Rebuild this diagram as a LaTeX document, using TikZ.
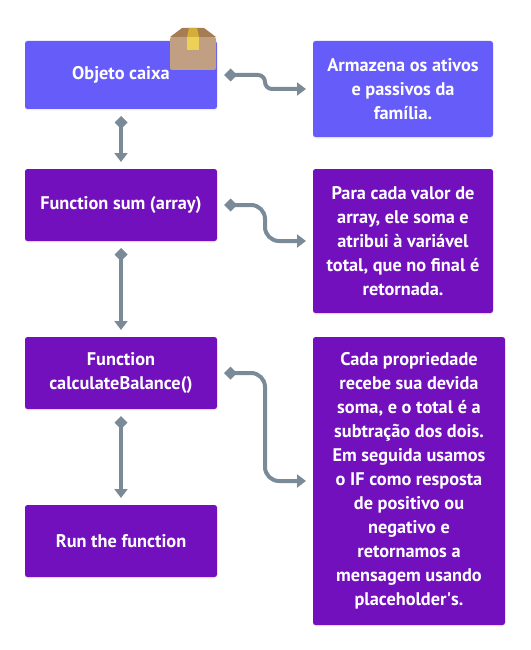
\documentclass[tikz,border=0pt]{standalone}
\usepackage{fontspec}
\setmainfont{PT Sans}
\usepackage{xcolor}
\usetikzlibrary{positioning, arrows.meta, shadows}

\definecolor{boxblue}{HTML}{665CFA}
\definecolor{boxpurple}{HTML}{7210BE}
\definecolor{linkgray}{HTML}{7B8A97}
\definecolor{cardbody}{HTML}{C19F82}
\definecolor{cardflap}{HTML}{A67C52}
\definecolor{tapelow}{HTML}{EDD057}
\definecolor{tapetop}{HTML}{D4AF37}

\begin{document}
\begin{tikzpicture}[
  x=1pt, y=1pt,
  node distance=60pt,
  every node/.style={font=\fontsize{18.3}{24}\selectfont\bfseries, text=white, outer sep=0pt},
  card/.style={
    rectangle, rounded corners=2.5pt,
    minimum width=192pt, inner sep=0pt,
    align=center,
    drop shadow={opacity=0.12, shadow xshift=0pt, shadow yshift=-1.5pt},
  },
  note/.style={card, minimum width=180pt},
  blue/.style={fill=boxblue},
  purple/.style={fill=boxpurple},
  link/.style={
    {Diamond[length=13pt,width=13pt]}-{Triangle[length=9pt,width=13pt]},
    draw=linkgray, line width=4pt, shorten <=7pt, shorten >=7pt,
  },
]
  \useasboundingbox (0,0) rectangle (530,-650);

  \node[card, blue, minimum height=68pt] (obj) at (121,-75) {Objeto caixa};
  \node[card, purple, minimum height=72pt, below=of obj] (sum) {Function sum (array)};
  \node[card, purple, minimum height=72pt, below=96pt of sum] (calc) {Function\\calculateBalance()};
  \node[card, purple, minimum height=72pt, below=96pt of calc] (run) {Run the function};

  \node[note, blue, minimum height=96pt, anchor=north west] (armazena) at ([xshift=96pt]obj.north east)
    {Armazena os ativos\\e passivos da\\família.};
  \node[note, purple, minimum height=144pt, anchor=north west] (cada) at ([xshift=96pt]sum.north east)
    {Para cada valor de\\array, ele soma e\\atribui à variável\\total, que no final é\\retornada.};
  \node[note, purple, minimum width=192pt, minimum height=288pt, anchor=north west] (prop) at ([xshift=96pt]calc.north east)
    {Cada propriedade\\recebe sua devida\\soma, e o total é a\\subtração dos dois.\\Em seguida usamos\\o IF como resposta\\de positivo ou\\negativo e\\retornamos a\\mensagem usando\\placeholder\textquotesingle s.};

  % caixa de papelao
  \fill[cardbody, rounded corners=2pt] (170,-37) rectangle (216,-70);
  \fill[cardflap] (170,-37) -- (182,-28) -- (204,-28) -- (216,-37) -- cycle;
  \fill[tapetop] (187,-37) -- (189,-28) -- (197,-28) -- (199,-37) -- cycle;
  \fill[tapelow] (187,-37) rectangle (199,-50);

  \coordinate[right=48pt of obj.east] (bendobj);
  \coordinate[right=48pt of sum.east] (bendsum);
  \coordinate[right=48pt of calc.east] (bendcalc);

  \draw[link] (obj) -- (sum);
  \draw[link] (sum) -- (calc);
  \draw[link] (calc) -- (run);
  \draw[link, rounded corners=7pt] (obj.east) -- (bendobj) |- (armazena.west);
  \draw[link, rounded corners=14pt] (sum.east) -- (bendsum) |- (cada.west);
  \draw[link, rounded corners=14pt] (calc.east) -- (bendcalc) |- (prop.west);
\end{tikzpicture}
\end{document}
